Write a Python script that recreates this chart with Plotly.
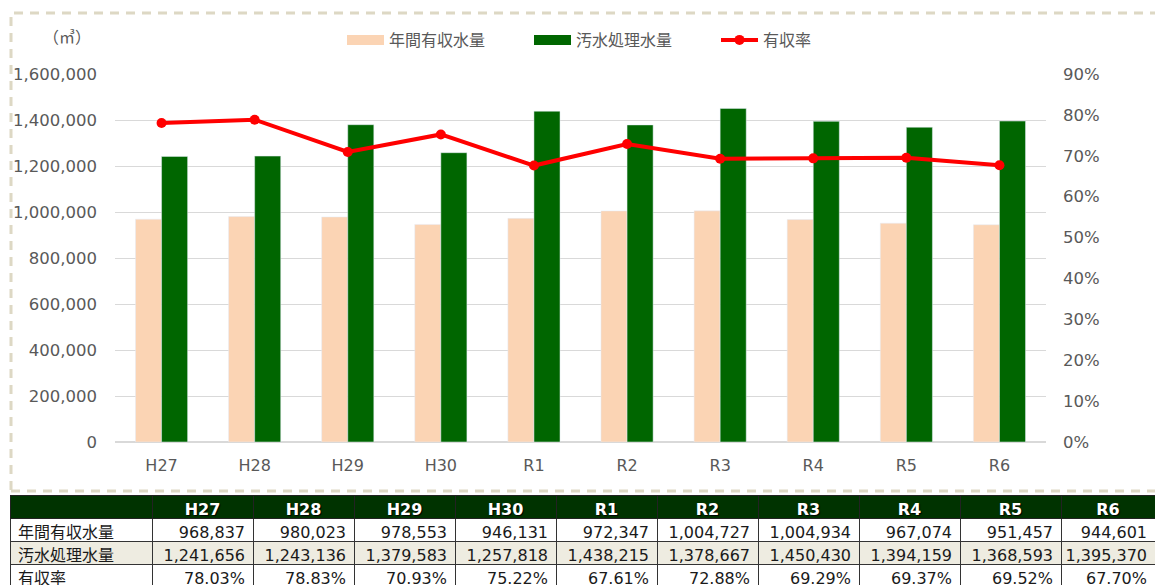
import plotly.graph_objects as go

years = ["H27", "H28", "H29", "H30", "R1", "R2", "R3", "R4", "R5", "R6"]
billed = [968837, 980023, 978553, 946131, 972347, 1004727, 1004934, 967074, 951457, 944601]
treated = [1241656, 1243136, 1379583, 1257818, 1438215, 1378667, 1450430, 1394159, 1368593, 1395370]
rate = [78.03, 78.83, 70.93, 75.22, 67.61, 72.88, 69.29, 69.37, 69.52, 67.70]

row_names = ["年間有収水量", "汚水処理水量", "有収率"]
series_names = ["年間有収水量", "汚水処理水量", "有収率"]
unit_label = "（㎥）"

W, H = 1155, 585
PEACH = "#FBD4B4"
GREEN = "#006600"
RED = "#FF0000"
GREY = "#595959"
FONT = "DejaVu Sans, Noto Sans CJK JP, sans-serif"

def px_x(p):
    return p / W

def px_y(p):
    return (H - p) / H

fig = go.Figure()

fig.add_trace(go.Bar(x=years, y=billed, name=series_names[0], marker_color=PEACH,
                     showlegend=False, yaxis="y"))
fig.add_trace(go.Bar(x=years, y=treated, name=series_names[1], marker_color=GREEN,
                     showlegend=False, yaxis="y"))
fig.add_trace(go.Scatter(x=years, y=[r / 100 for r in rate], name=series_names[2],
                         mode="lines+markers", line=dict(color=RED, width=4),
                         marker=dict(color=RED, size=10), yaxis="y2", showlegend=False))

# legend entries (wide swatches)
fig.add_trace(go.Scatter(x=[None], y=[None], name=series_names[0], mode="lines",
                         line=dict(color=PEACH, width=13), yaxis="y"))
fig.add_trace(go.Scatter(x=[None], y=[None], name=series_names[1], mode="lines",
                         line=dict(color=GREEN, width=13), yaxis="y"))
fig.add_trace(go.Scatter(x=[None], y=[None], name=series_names[2], mode="lines+markers",
                         line=dict(color=RED, width=4), marker=dict(color=RED, size=10),
                         yaxis="y2"))

# table
header_vals = [""] + years
cell_vals = [row_names] + [
    [f"{b:,}", f"{t:,}", f"{r:.2f}%"] for b, t, r in zip(billed, treated, rate)
]
row_fills = ["#FFFFFF", "#EEECE1", "#FFFFFF"]
fig.add_trace(go.Table(
    domain=dict(x=[px_x(10), 1], y=[0, px_y(495)]),
    columnwidth=[142] + [101] * 9 + [94],
    header=dict(values=header_vals, fill_color="#003300", height=23,
                align="center", line=dict(color="#222222", width=1),
                font=dict(family=FONT, size=16, color="white", weight="bold",
                          shadow="1px 1px 1px #000000")),
    cells=dict(values=cell_vals, fill_color=[row_fills] * 11, height=23,
               align=["left"] + ["right"] * 10, line=dict(color="#333333", width=1),
               font=dict(family=FONT, size=16, color="#1a1a1a")),
))

fig.update_layout(
    width=W, height=H, autosize=False,
    margin=dict(l=0, r=0, t=0, b=0, pad=0),
    paper_bgcolor="white", plot_bgcolor="white",
    font=dict(family=FONT, size=16, color=GREY),
    barmode="group", bargap=0.44, bargroupgap=0,
    xaxis=dict(domain=[px_x(115), px_x(1046)], range=[-0.5, len(years) - 0.5],
               showgrid=False, showline=False,
               automargin=False, ticks="", ticklabelstandoff=12,
               tickfont=dict(size=16, color=GREY)),
    yaxis=dict(domain=[px_y(442), px_y(74)], range=[0, 1600000], dtick=200000,
               tickformat=",d", showgrid=True, gridcolor="#D9D9D9", gridwidth=1,
               zeroline=True, zerolinecolor="#D9D9D9", ticks="", automargin=False,
               ticklabelstandoff=17, tickfont=dict(size=16.5, color=GREY)),
    yaxis2=dict(overlaying="y", side="right", range=[0, 0.9], dtick=0.1,
                tickformat=".0%", showgrid=False, zeroline=False, ticks="",
                automargin=False, ticklabelstandoff=16,
                tickfont=dict(size=16.5, color=GREY)),
    legend=dict(orientation="h", x=px_x(342), xanchor="left", y=px_y(40),
                yanchor="middle", font=dict(size=16, color=GREY),
                itemwidth=37, entrywidth=135, bgcolor="rgba(0,0,0,0)"),
    shapes=[dict(type="rect", xref="paper", yref="paper",
                 x0=px_x(11), x1=px_x(1170), y0=px_y(491), y1=px_y(13),
                 line=dict(color="#DDD8C4", width=3, dash="9px,7px"),
                 layer="below")],
    annotations=[dict(text=unit_label, xref="paper", yref="paper",
                      x=px_x(67), y=px_y(37), xanchor="center", yanchor="middle",
                      showarrow=False, font=dict(size=16, color=GREY))],
)

post = "document.body.style.margin='0';document.body.style.overflow='hidden';"
fig.write_html("out.html", post_script=post, config={"displayModeBar": False})
